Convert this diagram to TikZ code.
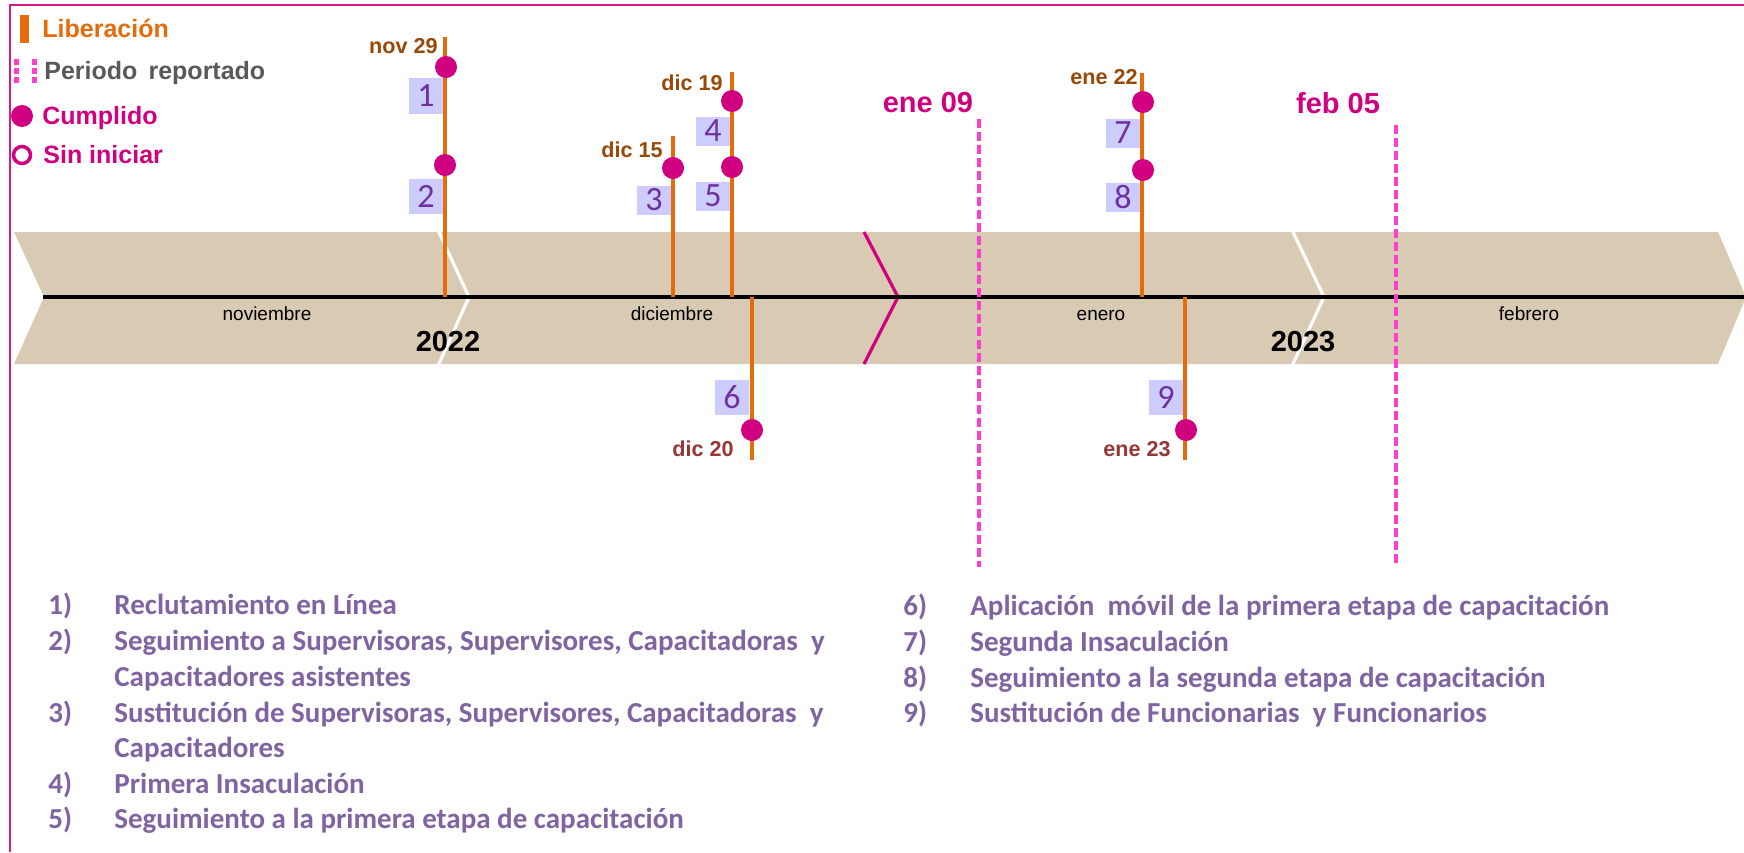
\documentclass[tikz,border=0pt]{standalone}
\usepackage{fontspec}
\setmainfont{Liberation Sans}
\newfontfamily\calfont{Carlito}
\definecolor{bandtan}{HTML}{D8CAB3}
\definecolor{stemor}{HTML}{E46C0A}
\definecolor{dotmag}{HTML}{D10080}
\definecolor{pinkdash}{HTML}{FF3FCC}
\definecolor{boxblue}{HTML}{CCCCFF}
\definecolor{numpurple}{HTML}{7030A0}
\definecolor{labbrown}{HTML}{984807}
\definecolor{labred}{HTML}{953735}
\definecolor{listpurple}{HTML}{8064A2}
\definecolor{leggray}{HTML}{595959}
\definecolor{framemag}{HTML}{D81B7F}
\begin{document}
\begin{tikzpicture}[x=0.5pt,y=-0.5pt,
  stem/.style={draw=stemor, line width=2.25pt},
  evdot/.style={circle, fill=dotmag, inner sep=0pt, minimum size=11pt},
  numbox/.style={rectangle, fill=boxblue, text=numpurple, inner sep=0pt,
     minimum width=17pt, font=\calfont\fontsize{17}{17}\selectfont},
  toplab/.style={anchor=base east, text=labbrown, inner sep=0pt, font=\bfseries\fontsize{10.8}{12}\selectfont},
  botlab/.style={anchor=base east, text=labred, inner sep=0pt, font=\bfseries\fontsize{10.8}{12}\selectfont},
  perlab/.style={anchor=base, text=dotmag, inner sep=0pt, font=\bfseries\fontsize{14.5}{16}\selectfont},
  monthlab/.style={anchor=base, inner sep=0pt, font=\fontsize{9.5}{11}\selectfont},
  yearlab/.style={anchor=base, inner sep=0pt, font=\bfseries\fontsize{14.5}{16}\selectfont},
  leglab/.style={anchor=base west, inner sep=0pt, font=\bfseries\fontsize{12.5}{14}\selectfont},
  listnum/.style={anchor=base west, inner sep=0pt, text=listpurple, font=\calfont\bfseries\fontsize{14.5}{16}\selectfont},
  listtxt/.style={anchor=base west, inner sep=0pt, text=listpurple, font=\calfont\bfseries\fontsize{14.5}{16}\selectfont},
  perline/.style={draw=pinkdash, line width=1.75pt, dash pattern=on 4.5pt off 2pt},
]
\useasboundingbox (0,0) rectangle (1744,852);
\fill[white] (0,0) rectangle (1744,852);
% frame
\draw[framemag, line width=1pt] (10,852) -- (10,5) -- (1744,5);

% band
\fill[bandtan] (14,232) -- (1718,232) -- (1746,297) -- (1718,364) -- (14,364) -- (44,297) -- cycle;
\draw[white, line width=1.6pt] (438,230) -- (469,297) -- (438,366);
\draw[white, line width=1.6pt] (1292,230) -- (1324,297) -- (1292,366);
\draw[dotmag, line width=1.6pt] (864,232) -- (898,297) -- (864,364);
\coordinate (axL) at (43,297);
\coordinate (axR) at (1744,297);
\draw[black, line width=1.7pt] (axL) -- (axR);

% month and year labels
\node[monthlab] (mnov) at (267,320) {noviembre};
\node[monthlab] (mdic) at (672,320) {diciembre};
\node[monthlab] (mene) at (1101,320) {enero};
\node[monthlab] (mfeb) at (1529,320) {febrero};
\node[yearlab] (y22) at (448,351) {2022};
\node[yearlab] (y23) at (1303,351) {2023};

% reporting period
\coordinate (p1t) at (979,119);
\coordinate (p1b) at (979,567);
\coordinate (p2t) at (1396,125);
\coordinate (p2b) at (1396,567);
\draw[perline] (p1t) -- (p1b);
\draw[perline] (p2t) -- (p2b);
\node[perlab] (lene09) at (928,112) {ene 09};
\node[perlab] (lfeb05) at (1338,113) {feb 05};

% stems
\coordinate (s1t) at (445,37);   \coordinate (s1b) at (445,297);
\coordinate (s3t) at (673,136);  \coordinate (s3b) at (673,297);
\coordinate (s4t) at (732,72);   \coordinate (s4b) at (732,297);
\coordinate (s6t) at (752,297);  \coordinate (s6b) at (752,460);
\coordinate (s7t) at (1142,73);  \coordinate (s7b) at (1142,297);
\coordinate (s9t) at (1185,297); \coordinate (s9b) at (1185,460);
\draw[stem] (s1t) -- (s1b);
\draw[stem] (s3t) -- (s3b);
\draw[stem] (s4t) -- (s4b);
\draw[stem] (s6t) -- (s6b);
\draw[stem] (s7t) -- (s7b);
\draw[stem] (s9t) -- (s9b);

% event dots
\node[evdot] (d1) at (446,67) {};
\node[evdot] (d2) at (445,165) {};
\node[evdot] (d3) at (673,168) {};
\node[evdot] (d4) at (732,101) {};
\node[evdot] (d5) at (732,167) {};
\node[evdot] (d6) at (752,430) {};
\node[evdot] (d7) at (1143,102) {};
\node[evdot] (d8) at (1143,170) {};
\node[evdot] (d9) at (1186,430) {};

% number boxes
\node[numbox, minimum height=18pt] (b1) at (426,96) {1};
\node[numbox, minimum height=17.5pt] (b2) at (426,196) {2};
\node[numbox, minimum height=14.5pt] (b3) at (654,200) {3};
\node[numbox, minimum height=14.5pt] (b4) at (713,131) {4};
\node[numbox, minimum height=14.5pt] (b5) at (713,196) {5};
\node[numbox, minimum height=17.5pt] (b6) at (732,397) {6};
\node[numbox, minimum height=14.5pt] (b7) at (1123,133) {7};
\node[numbox, minimum height=14.5pt] (b8) at (1123,197) {8};
\node[numbox, minimum height=17.5pt] (b9) at (1166,397) {9};

% date labels
\node[toplab] (lnov29) at (438,53) {nov 29};
\node[toplab] (ldic19) at (723,90) {dic 19};
\node[toplab] (ldic15) at (663,157) {dic 15};
\node[toplab] (lene22) at (1138,84) {ene 22};
\node[botlab] (ldic20) at (734,456) {dic 20};
\node[botlab] (lene23) at (1171,456) {ene 23};

% legend
\fill[stemor] (20,15) rectangle (29,43);
\node[leglab, text=stemor] (gl1) at (42,37) {Liberación};
\draw[draw=pinkdash, line width=2.5pt, dash pattern=on 3pt off 1.5pt] (16,59) -- (16,83);
\draw[draw=pinkdash, line width=2.5pt, dash pattern=on 3pt off 1.5pt] (34,59) -- (34,83);
\node[leglab, text=leggray] (gl2) at (44,79) {Periodo\, reportado};
\node[evdot] (gd1) at (22,116) {};
\node[leglab, text=dotmag] (gl3) at (42,124) {Cumplido};
\node[circle, draw=dotmag, line width=1.75pt, inner sep=0pt, minimum size=8.5pt] (gd2) at (22,155) {};
\node[leglab, text=dotmag] (gl4) at (43,163) {Sin iniciar};

% list, left column
\node[listnum] (n1) at (48,614) {1)};
\node[listtxt] (t1) at (114,614) {Reclutamiento en Línea};
\node[listnum] (n2) at (48,650) {2)};
\node[listtxt] (t2) at (114,650) {Seguimiento a Supervisoras, Supervisores, Capacitadoras\ \ y};
\node[listtxt] (t2b) at (114,686) {Capacitadores asistentes};
\node[listnum] (n3) at (48,722) {3)};
\node[listtxt] (t3) at (114,722) {Sustitución de Supervisoras, Supervisores, Capacitadoras\ \ y};
\node[listtxt] (t3b) at (114,757) {Capacitadores};
\node[listnum] (n4) at (48,793) {4)};
\node[listtxt] (t4) at (114,793) {Primera Insaculación};
\node[listnum] (n5) at (48,828) {5)};
\node[listtxt] (t5) at (114,828) {Seguimiento a la primera etapa de capacitación};

% list, right column
\node[listnum] (n6) at (903,615) {6)};
\node[listtxt] (t6) at (970,615) {Aplicación\ \ móvil de la primera etapa de capacitación};
\node[listnum] (n7) at (903,651) {7)};
\node[listtxt] (t7) at (970,651) {Segunda Insaculación};
\node[listnum] (n8) at (903,687) {8)};
\node[listtxt] (t8) at (970,687) {Seguimiento a la segunda etapa de capacitación};
\node[listnum] (n9) at (903,722) {9)};
\node[listtxt] (t9) at (970,722) {Sustitución de Funcionarias\ \ y Funcionarios};
\end{tikzpicture}
\end{document}
